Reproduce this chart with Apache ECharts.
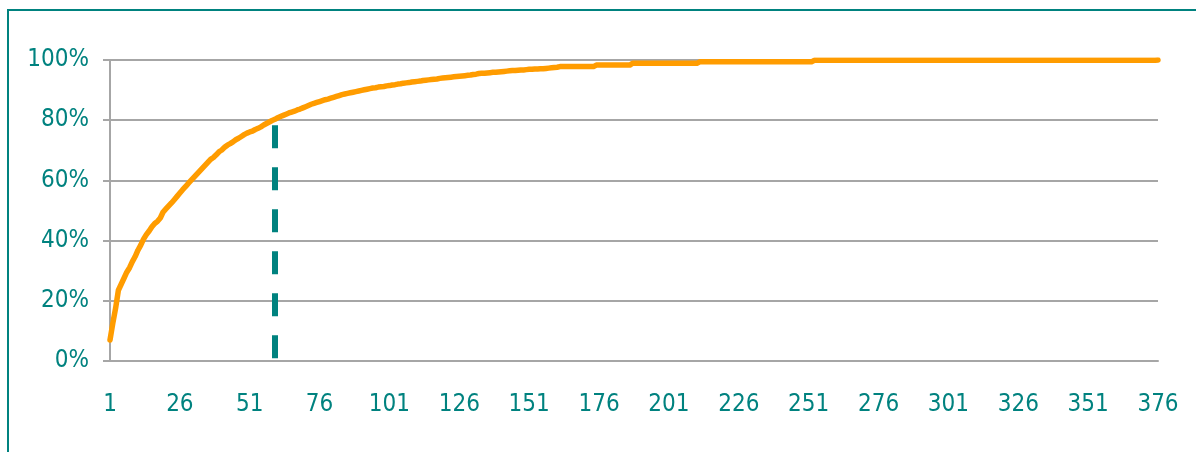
<!doctype html>
<html lang="en">
<head>
    <meta charset="UTF-8">
    <title>Cumulative share</title>
    <script src="https://cdn.jsdelivr.net/npm/echarts@6/dist/echarts.min.js"></script>
    <style>
        html, body { margin: 0; padding: 0; background: #fff; }
        #main { width: 1196px; height: 452px; }
    </style>
</head>
<body>
<div id="main"></div>
<script>
    // items 1..376 on the x axis
    var categories = [];
    for (var i = 1; i <= 376; i++) categories.push(String(i));

    // cumulative share in %
    var cumulative = [
        7.0, 12.5, 17.5, 23.5, 25.5, 27.5, 29.5, 31.0, 33.0, 34.7,
        36.8, 38.5, 40.5, 42.0, 43.2, 44.6, 45.7, 46.4, 47.5, 49.5,
        50.5, 51.5, 52.5, 53.6, 54.7, 55.8, 56.9, 57.9, 59.0, 60.0,
        61.0, 62.0, 63.0, 64.0, 65.0, 66.0, 67.0, 67.6, 68.5, 69.5,
        70.1, 71.0, 71.7, 72.2, 72.8, 73.5, 74.0, 74.6, 75.2, 75.7,
        76.1, 76.4, 76.9, 77.3, 77.8, 78.4, 78.9, 79.4, 79.9, 80.3,
        80.8, 81.2, 81.6, 82.0, 82.4, 82.7, 83.0, 83.4, 83.7, 84.1,
        84.5, 84.9, 85.3, 85.6, 85.9, 86.2, 86.5, 86.8, 87.0, 87.3,
        87.6, 87.9, 88.2, 88.5, 88.7, 88.9, 89.1, 89.3, 89.5, 89.7,
        89.9, 90.1, 90.3, 90.5, 90.7, 90.8, 91.0, 91.1, 91.2, 91.4,
        91.5, 91.7, 91.8, 92.0, 92.1, 92.3, 92.4, 92.5, 92.7, 92.8,
        92.9, 93.0, 93.2, 93.3, 93.4, 93.5, 93.6, 93.7, 93.9, 94.0,
        94.1, 94.2, 94.3, 94.4, 94.5, 94.6, 94.7, 94.8, 94.9, 95.0,
        95.2, 95.3, 95.5, 95.6, 95.6, 95.7, 95.8, 95.9, 95.9, 96.0,
        96.1, 96.2, 96.3, 96.4, 96.5, 96.5, 96.6, 96.7, 96.7, 96.8,
        96.9, 96.9, 97.0, 97.0, 97.1, 97.1, 97.2, 97.3, 97.4, 97.5,
        97.6,
        97.8, 97.8, 97.8, 97.8, 97.8, 97.8, 97.8, 97.8, 97.8, 97.8, 97.8, 97.8, 97.8,
        98.3, 98.3, 98.3, 98.3, 98.3, 98.3, 98.3, 98.3, 98.3, 98.3, 98.3, 98.3, 98.3,
        98.9, 98.9, 98.9, 98.9, 98.9, 98.9, 98.9, 98.9, 98.9, 98.9, 98.9, 98.9,
        98.9, 98.9, 98.9, 98.9, 98.9, 98.9, 98.9, 98.9, 98.9, 98.9, 98.9, 98.9,
        99.4, 99.4, 99.4, 99.4, 99.4, 99.4, 99.4, 99.4, 99.4, 99.4,
        99.4, 99.4, 99.4, 99.4, 99.4, 99.4, 99.4, 99.4, 99.4, 99.4,
        99.4, 99.4, 99.4, 99.4, 99.4, 99.4, 99.4, 99.4, 99.4, 99.4,
        99.4, 99.4, 99.4, 99.4, 99.4, 99.4, 99.4, 99.4, 99.4, 99.4, 99.4,
        99.9, 99.9, 99.9, 99.9, 99.9, 99.9, 99.9, 99.9, 99.9, 99.9,
        99.9, 99.9, 99.9, 99.9, 99.9, 99.9, 99.9, 99.9, 99.9, 99.9,
        99.9, 99.9, 99.9, 99.9, 99.9, 99.9, 99.9, 99.9, 99.9, 99.9,
        99.9, 99.9, 99.9, 99.9, 99.9, 99.9, 99.9, 99.9, 99.9, 99.9,
        99.9, 99.9, 99.9, 99.9, 99.9, 99.9, 99.9, 99.9, 99.9, 99.9,
        99.9, 99.9, 99.9, 99.9, 99.9, 99.9, 99.9, 99.9, 99.9, 99.9,
        99.9, 99.9, 99.9, 99.9, 99.9, 99.9, 99.9, 99.9, 99.9, 99.9,
        99.9, 99.9, 99.9, 99.9, 99.9, 99.9, 99.9, 99.9, 99.9, 99.9,
        99.9, 99.9, 99.9, 99.9, 99.9, 99.9, 99.9, 99.9, 99.9, 99.9,
        99.9, 99.9, 99.9, 99.9, 99.9, 99.9, 99.9, 99.9, 99.9, 99.9,
        99.9, 99.9, 99.9, 99.9, 99.9, 99.9, 99.9, 99.9, 99.9, 99.9,
        99.9, 99.9, 99.9, 99.9, 99.9, 99.9, 99.9, 99.9, 99.9, 99.9,
        99.9, 99.9, 99.9,
        100.0
    ];

    // y ticks and the 80% cut-off marker
    var yTicks = [0, 20, 40, 60, 80, 100];
    var cutItem = '60';
    var cutShare = 80;

    var teal = '#00827f';
    var grey = '#a6a6a6';
    var font = '"DejaVu Sans Condensed", "DejaVu Sans", sans-serif';

    var myChart = echarts.init(document.getElementById('main'), null, {renderer: 'canvas'});
    var option = {
        animation: false,
        backgroundColor: '#fff',
        graphic: [{
            type: 'rect',
            shape: {x: 8, y: 10, width: 1220, height: 480},
            style: {fill: 'none', stroke: teal, lineWidth: 2}
        }],
        grid: {left: 110, right: 38, top: 60, bottom: 91, containLabel: false, outerBoundsMode: 'none'},
        xAxis: {
            type: 'category',
            data: categories,
            boundaryGap: false,
            axisLine: {show: true, lineStyle: {color: grey, width: 2}},
            axisTick: {show: false},
            axisLabel: {
                interval: 24,
                margin: 32,
                color: teal,
                fontSize: 24,
                fontFamily: font
            },
            splitLine: {show: false}
        },
        yAxis: {
            type: 'value',
            min: yTicks[0],
            max: yTicks[yTicks.length - 1],
            interval: 20,
            axisLine: {show: true, lineStyle: {color: grey, width: 2}},
            axisTick: {show: true, length: 7, lineStyle: {color: grey, width: 2}},
            axisLabel: {
                formatter: '{value}%',
                margin: 21,
                color: teal,
                fontSize: 24,
                fontFamily: font
            },
            splitLine: {show: true, lineStyle: {color: grey, width: 2}}
        },
        series: [{
            type: 'line',
            data: cumulative,
            symbol: 'none',
            smooth: false,
            z: 3,
            lineStyle: {color: '#ff9c00', width: 5.5, cap: 'round', join: 'round'},
            markLine: {
                silent: true,
                symbol: ['none', 'none'],
                label: {show: false},
                lineStyle: {color: teal, width: 6, type: [23, 19], dashOffset: 37, cap: 'butt'},
                data: [[{coord: [cutItem, cutShare]}, {coord: [cutItem, 0]}]]
            }
        }]
    };
    myChart.setOption(option);
</script>
</body>
</html>
